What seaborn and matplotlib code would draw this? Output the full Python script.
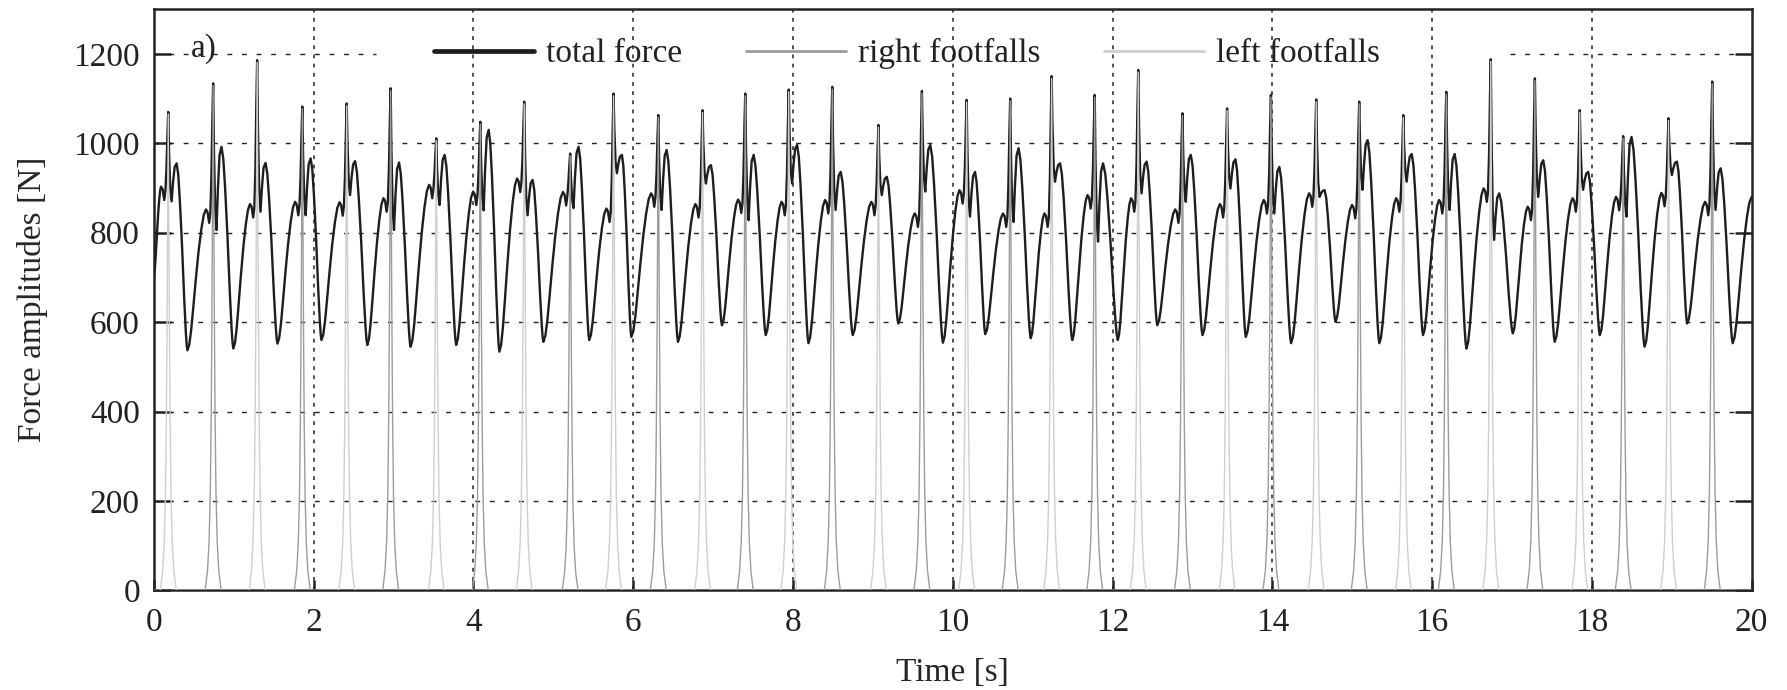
import matplotlib
matplotlib.use("Agg")
import matplotlib.pyplot as plt
import seaborn as sns
import pandas as pd

# Valores: un registro por paso
spike_t = [0.18, 0.742, 1.293, 1.858, 2.414, 2.964, 3.535, 4.086, 4.636, 5.211,
           5.754, 6.314, 6.868, 7.403, 7.947, 8.492, 9.07, 9.614, 10.174, 10.719,
           11.238, 11.777, 12.322, 12.875, 13.434, 13.983, 14.55, 15.088, 15.64, 16.178,
           16.735, 17.287, 17.849, 18.392, 18.96, 19.507]
spike_n = [1070, 1134, 1186, 1082, 1089, 1123, 1011, 1048, 1093, 977,
           1111, 1063, 1074, 1111, 1120, 1126, 1041, 1117, 1097, 1100,
           1150, 1108, 1164, 1067, 1078, 1108, 1098, 1093, 1063, 1115,
           1188, 1145, 1074, 1016, 1056, 1138]
peak2_n = [955, 992, 956, 966, 960, 957, 974, 1030, 918, 992,
           974, 985, 951, 974, 996, 936, 925, 996, 936, 989,
           955, 955, 959, 974, 964, 947, 895, 1007, 976, 976,
           888, 962, 936, 1014, 959, 944]
hump_n = [903, 852, 864, 869, 868, 877, 907, 892, 921, 891,
          854, 888, 864, 874, 869, 873, 869, 843, 895, 843,
          843, 884, 877, 852, 864, 873, 888, 862, 877, 873,
          899, 858, 877, 880, 889, 869]
dip_n = [870, 806, 847, 839, 884, 806, 862, 850, 839, 855,
         933, 851, 910, 828, 910, 851, 884, 892, 836, 824,
         914, 780, 888, 869, 899, 843, 880, 896, 914, 851,
         784, 880, 896, 836, 929, 851]
trough_t = [0.42, 0.995, 1.547, 2.098, 2.672, 3.213, 3.784, 4.325, 4.876, 5.45,
            5.977, 6.561, 7.111, 7.659, 8.194, 8.748, 9.318, 9.877, 10.407, 10.976,
            11.496, 12.066, 12.56, 13.126, 13.668, 14.235, 14.791, 15.34, 15.887, 16.43,
            17.011, 17.535, 18.1, 18.66, 19.193, 19.763]
trough_n = [537, 541, 552, 560, 549, 545, 549, 534, 556, 560,
            567, 556, 593, 571, 553, 571, 597, 554, 573, 564,
            560, 560, 593, 571, 567, 553, 601, 553, 571, 541,
            575, 556, 571, 545, 597, 553]
start_n = 705
end_n = 880

rise_u = [0.1, 0.2, 0.3, 0.45, 0.6, 0.75, 0.88]
rise_f = [0.04, 0.14, 0.28, 0.5, 0.7, 0.86, 0.96]
fall_u = [0.15, 0.3, 0.5, 0.7, 0.85, 0.93]
fall_f = [0.06, 0.2, 0.44, 0.72, 0.9, 0.97]
pulse_dt = [-0.1, -0.07, -0.05, -0.035, -0.024, -0.015, -0.007, 0,
            0.007, 0.015, 0.024, 0.035, 0.05, 0.07, 0.1]
pulse_f = [0, 0.04, 0.1, 0.2, 0.35, 0.55, 0.78, 1,
           0.78, 0.55, 0.35, 0.2, 0.1, 0.04, 0]

# Construir la fuerza total
tt, ff = [], []
prev_t, prev_n = 0.0, start_n
for i in range(len(spike_t)):
    ts, S, P, H, D = spike_t[i], spike_n[i], peak2_n[i], hump_n[i], dip_n[i]
    tr, T = trough_t[i], trough_n[i]
    th = ts - 0.09
    tt.append(prev_t)
    ff.append(prev_n)
    for u, f in zip(rise_u, rise_f):
        tt.append(prev_t + u * (th - prev_t))
        ff.append(prev_n + f * (H - prev_n))
    seg = [(-0.09, H), (-0.07, H - 6), (-0.05, H - 30), (-0.035, H - 8),
           (-0.022, H + 0.25 * (S - H)), (-0.01, H + 0.7 * (S - H)), (0, S),
           (0.01, S - 0.45 * (S - D)), (0.025, D + 0.15 * (S - D)), (0.042, D),
           (0.06, D + 0.5 * (P - D)), (0.08, P - 0.1 * (P - D)), (0.105, P)]
    for dt, v in seg:
        tt.append(ts + dt)
        ff.append(v)
    tp = ts + 0.105
    for u, f in zip(fall_u, fall_f):
        tt.append(tp + u * (tr - tp))
        ff.append(P - f * (P - T))
    prev_t, prev_n = tr, T
tt.append(prev_t)
ff.append(prev_n)
for u, f in zip(rise_u, rise_f):
    tt.append(prev_t + u * (20.0 - prev_t))
    ff.append(prev_n + f * (end_n - prev_n))
tt.append(20.0)
ff.append(end_n)
total = pd.DataFrame({"Time": tt, "Force": ff})

# Pisadas: izquierda y derecha alternadas
feet = {"left": ([0.0], [0.0]), "right": ([0.0], [0.0])}
for i in range(len(spike_t)):
    side = "left" if i % 2 == 0 else "right"
    for dt, f in zip(pulse_dt, pulse_f):
        feet[side][0].append(spike_t[i] + dt)
        feet[side][1].append(f * (spike_n[i] - 5))
for side in feet:
    feet[side][0].append(20.0)
    feet[side][1].append(0.0)
right = pd.DataFrame({"Time": feet["right"][0], "Force": feet["right"][1]})
left = pd.DataFrame({"Time": feet["left"][0], "Force": feet["left"][1]})

sns.set_theme(style="white")
plt.rcParams["font.family"] = ["Liberation Serif", "DejaVu Serif"]
plt.rcParams["text.color"] = "#222222"

fig = plt.figure(figsize=(17.87, 6.90), dpi=100)
ax = fig.add_axes([0.0861, 0.1443, 0.8941, 0.8425])

sns.lineplot(data=total, x="Time", y="Force", ax=ax, color="#1e1e1e", linewidth=1.7,
             estimator=None, sort=False, label="total force", zorder=3)
sns.lineplot(data=right, x="Time", y="Force", ax=ax, color="#9c9c9c", linewidth=1.0,
             estimator=None, sort=False, label="right footfalls", zorder=4)
sns.lineplot(data=left, x="Time", y="Force", ax=ax, color="#cfcfcf", linewidth=1.0,
             estimator=None, sort=False, label="left footfalls", zorder=4)

ax.set_xlim(0, 20)
ax.set_ylim(0, 1300)
ax.set_xticks(range(0, 21, 2))
ax.set_yticks(range(0, 1201, 200))

# Rejilla
for x in range(2, 20, 2):
    ax.axvline(x, color="#222222", lw=1.1, ls=(0, (2.5, 3.5)), zorder=1)
for y in range(200, 1001, 200):
    ax.axhline(y, color="#222222", lw=1.0, ls=(0, (3.5, 7)), zorder=1)
ax.axhline(1200, xmin=0, xmax=0.139, color="#222222", lw=1.0, ls=(0, (3.5, 7)), zorder=1)
ax.axhline(1200, xmin=0.849, xmax=1, color="#222222", lw=1.0, ls=(0, (3.5, 7)), zorder=1)

for s in ax.spines.values():
    s.set_color("#222222")
    s.set_linewidth(1.8)

ax.tick_params(axis="y", direction="in", length=12, width=1.8, left=True, right=True,
               labelsize=24, pad=10, colors="#222222")
ax.tick_params(axis="x", direction="in", length=7, width=1.8, bottom=True, top=False,
               labelsize=24, pad=12, colors="#222222")

ax.set_xlabel("Time [s]", fontsize=24, labelpad=14)
ax.set_ylabel("Force amplitudes [N]", fontsize=24, labelpad=18)

ax.text(0.46, 1212, "a)", fontsize=24, va="center", ha="left")

handles, labels = ax.get_legend_handles_labels()
leg = ax.legend(handles, labels, ncol=3, loc="center left", bbox_to_anchor=(0.1753, 0.923),
                frameon=False, handlelength=3.0, handletextpad=0.37, columnspacing=1.9,
                borderpad=0, borderaxespad=0, fontsize=24)
for ln, w in zip(leg.get_lines(), [3.4, 2.0, 2.0]):
    ln.set_linewidth(w)

plt.savefig("out.png", dpi=100)
